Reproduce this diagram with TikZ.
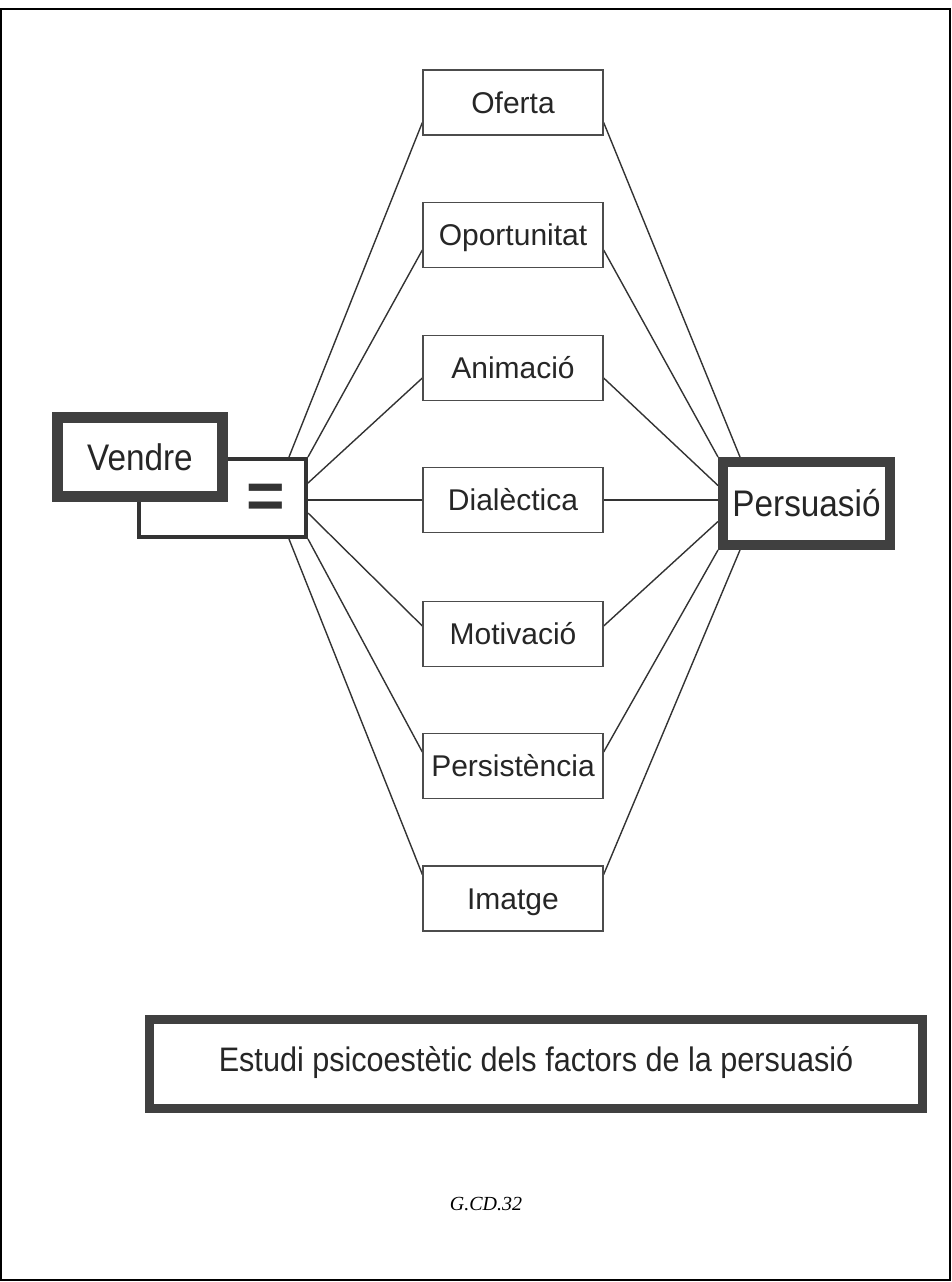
\documentclass[tikz,border=0pt]{standalone}
\usepackage{fontspec}
\setmainfont{Liberation Sans}
\newfontfamily\bigsans[FakeStretch=0.9]{Liberation Sans}
\newfontfamily\codeserif{Liberation Serif}
\usetikzlibrary{backgrounds}
\tikzset{
  thickframe/.style={draw=black!75, fill=white, inner sep=0pt, text=black!85,
    font=\bigsans\fontsize{37}{37}\selectfont, text height=26.6pt, text depth=0pt},
  itembox/.style={draw=black!70, line width=1.3pt, fill=white, minimum width=180pt,
    minimum height=65pt, inner sep=0pt, text=black!85,
    font=\fontsize{30}{30}\selectfont, text height=21.6pt, text depth=0pt},
  conn/.style={draw=black!80, line width=1.4pt}
}
\begin{document}
\begin{tikzpicture}[x=1pt,y=-1pt]
\useasboundingbox (0,0) rectangle (952,1282);
\draw[line width=1.5pt] (1,9) rectangle (950,1280);

% equals box (behind Vendre)
\node[draw=black!80, fill=white, line width=4pt, minimum width=167pt, minimum height=78pt, inner sep=0pt] (eqbox) at (222.5,498) {};
\node[anchor=base, inner sep=0pt, text=black!80, font=\bfseries\fontsize{66}{66}\selectfont] (eq) at (266,518) {=};

% Vendre
\node[thickframe, line width=11pt, minimum width=165pt, minimum height=79pt] (vendre) at (140,457) {Vendre};

% items
\node[itembox] (ofer)   at (513,102.5) {Oferta};
\node[itembox] (oport)  at (513,235)   {Oportunitat};
\node[itembox] (anim)   at (513,368)   {Animació};
\node[itembox] (dial)   at (513,500)   {Dialèctica};
\node[itembox] (motiv)  at (513,634)   {Motivació};
\node[itembox] (persis) at (513,766)   {Persistència};
\node[itembox] (imat)   at (513,898.5) {Imatge};

% Persuasio
\node[thickframe, line width=10pt, minimum width=167pt, minimum height=83pt] (persu) at (806.5,503.5) {Persuasió};

% title
\node[thickframe, line width=9pt, minimum width=773pt, minimum height=89pt,
  font=\bigsans\fontsize{34}{34}\selectfont, text height=24.5pt, text depth=10pt] (title) at (536,1064) {Estudi psicoestètic dels factors de la persuasió};

% code
\node[anchor=base, inner sep=0pt, font=\codeserif\itshape\fontsize{20}{20}\selectfont] (code) at (486,1210) {G.CD.32};

\begin{scope}[on background layer]
\draw[conn] ([xshift=-19pt]eqbox.north east) -- ([yshift=-20pt]ofer.west);
\draw[conn] (eqbox.north east) -- ([yshift=-15pt]oport.west);
\draw[conn] ([yshift=15pt]eqbox.east) -- ([yshift=-10pt]anim.west);
\draw[conn] ([yshift=-2pt]eqbox.east) -- (dial.west);
\draw[conn] ([yshift=-15pt]eqbox.east) -- ([yshift=8pt]motiv.west);
\draw[conn] (eqbox.south east) -- ([yshift=14pt]persis.west);
\draw[conn] ([xshift=-19pt]eqbox.south east) -- ([yshift=24pt]imat.west);

\draw[conn] ([yshift=-20pt]ofer.east) -- ([xshift=22pt]persu.north west);
\draw[conn] ([yshift=-15pt]oport.east) -- (persu.north west);
\draw[conn] ([yshift=-10pt]anim.east) -- ([yshift=18pt]persu.west);
\draw[conn] (dial.east) -- ([yshift=3.5pt]persu.west);
\draw[conn] ([yshift=8pt]motiv.east) -- ([yshift=-18pt]persu.west);
\draw[conn] ([yshift=14pt]persis.east) -- (persu.south west);
\draw[conn] ([yshift=24pt]imat.east) -- ([xshift=22pt]persu.south west);
\end{scope}
\end{tikzpicture}
\end{document}
